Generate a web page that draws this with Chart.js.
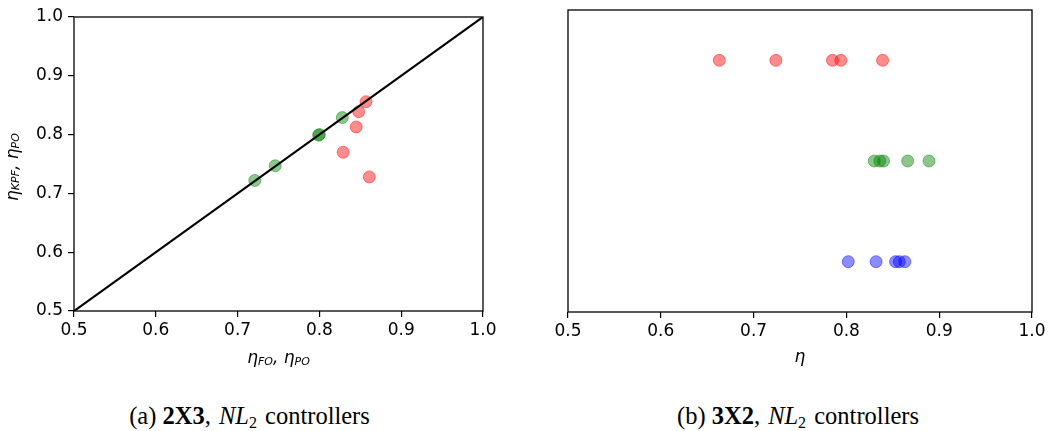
<!DOCTYPE html>
<html>
<head>
<meta charset="utf-8">
<script src="https://cdn.jsdelivr.net/npm/chart.js@4"></script>
<style>
  body { margin: 0; background: #fff; width: 1052px; height: 431px; position: relative; overflow: hidden; }
  canvas { position: absolute; top: 0; }
  #c1 { left: 0; }
  #c2 { left: 520px; }
  .caption { position: absolute; top: 402px; font-family: "Liberation Serif", serif; font-size: 24.5px; line-height: 28px; text-align: center; color: #000; white-space: nowrap; }
  .caption i { margin-left: 2px; }
  .caption sub { font-size: 16px; vertical-align: -4px; line-height: 0; margin-right: 2px; }
</style>
</head>
<body>
<canvas id="c1" width="500" height="380"></canvas>
<canvas id="c2" width="532" height="380"></canvas>
<div class="caption" style="left:0;width:499px">(a) <b>2X3</b>, <i>NL</i><sub>2</sub> controllers</div>
<div class="caption" style="left:548px;width:500px">(b) <b>3X2</b>, <i>NL</i><sub>2</sub> controllers</div>
<script>
// valeurs
const axisTicks = [0.5, 0.6, 0.7, 0.8, 0.9, 1.0];

// (a) 2X3
const gaucheRougeX = [0.857, 0.848, 0.845, 0.829, 0.861];
const gaucheRougeY = [0.856, 0.839, 0.813, 0.770, 0.728];
const gaucheVertX = [0.828, 0.799, 0.800, 0.746, 0.721];
const gaucheVertY = [0.829, 0.799, 0.800, 0.747, 0.722];
const diagonale = [0.5, 1.0];

// (b) 3X2 : une rangée par série
const droiteRouge = [0.663, 0.724, 0.785, 0.794, 0.839];
const droiteVert = [0.830, 0.836, 0.840, 0.866, 0.889];
const droiteBleu = [0.802, 0.832, 0.853, 0.857, 0.863];
const rangees = [2, 1, 0];

const ROUGE = 'rgba(255, 0, 0, 0.45)';
const VERT = 'rgba(0, 128, 0, 0.45)';
const BLEU = 'rgba(0, 0, 255, 0.45)';
const TICK_FONT = { family: '"DejaVu Sans"', size: 17 };

function pts(xs, ys) {
    return xs.map((x, i) => ({ x: x, y: Array.isArray(ys) ? ys[i] : ys }));
}

function nuage(data, couleur) {
    return {
        type: 'scatter', data: data, order: 1,
        backgroundColor: couleur, borderColor: couleur, borderWidth: 1,
        pointRadius: 6, pointHoverRadius: 6
    };
}

// cadre noir autour de la zone de tracé + titres d'axes avec indices
function cadre(titres) {
    return {
        id: 'cadre',
        afterDraw(chart) {
            const a = chart.chartArea;
            const ctx = chart.ctx;
            ctx.save();
            ctx.strokeStyle = '#000';
            ctx.lineWidth = 1.3;
            ctx.strokeRect(a.left, a.top, a.right - a.left, a.bottom - a.top);
            titres.forEach(t => {
                ctx.save();
                ctx.translate(t.x(a), t.y(a));
                if (t.rot) ctx.rotate(-Math.PI / 2);
                dessinerTitre(ctx, t.parts);
                ctx.restore();
            });
            ctx.restore();
        }
    };
}

function dessinerTitre(ctx, parts) {
    const gros = 'italic 17px "DejaVu Sans"';
    const petit = 'italic 11px "DejaVu Sans"';
    let total = 0;
    parts.forEach(p => {
        ctx.font = gros; total += ctx.measureText(p.t).width;
        if (p.sub) { ctx.font = petit; total += ctx.measureText(p.sub).width; }
    });
    let x = -total / 2;
    ctx.fillStyle = '#000';
    ctx.textBaseline = 'alphabetic';
    ctx.textAlign = 'left';
    parts.forEach(p => {
        ctx.font = gros; ctx.fillText(p.t, x, 0); x += ctx.measureText(p.t).width;
        if (p.sub) { ctx.font = petit; ctx.fillText(p.sub, x, 1.5); x += ctx.measureText(p.sub).width; }
    });
}

function axeX(hauteur) {
    return {
        type: 'linear', min: 0.5, max: 1.0,
        afterBuildTicks: s => { s.ticks = axisTicks.map(v => ({ value: v })); },
        afterFit: s => { s.height = hauteur; },
        border: { display: false },
        grid: { drawOnChartArea: false, drawTicks: true, tickLength: 6, color: '#000', lineWidth: 1.2 },
        ticks: { font: TICK_FONT, color: '#000', padding: 3, maxRotation: 0, callback: v => v.toFixed(1) }
    };
}

new Chart(document.getElementById('c1'), {
    type: 'scatter',
    data: {
        datasets: [
            {
                type: 'line', data: pts(diagonale, diagonale), order: 0,
                borderColor: '#000', borderWidth: 2.2, pointRadius: 0, fill: false
            },
            nuage(pts(gaucheRougeX, gaucheRougeY), ROUGE),
            nuage(pts(gaucheVertX, gaucheVertY), VERT)
        ]
    },
    options: {
        responsive: false, animation: false,
        layout: { padding: { left: 0, top: 17, right: 17, bottom: 0 } },
        plugins: { legend: { display: false }, tooltip: { enabled: false } },
        scales: {
            x: axeX(69),
            y: {
                type: 'linear', min: 0.5, max: 1.0,
                afterBuildTicks: s => { s.ticks = axisTicks.map(v => ({ value: v })); },
                afterFit: s => { s.width = 74; },
                border: { display: false },
                grid: { drawOnChartArea: false, drawTicks: true, tickLength: 6, color: '#000', lineWidth: 1.2 },
                ticks: { font: TICK_FONT, color: '#000', padding: 5, callback: v => v.toFixed(1) }
            }
        }
    },
    plugins: [cadre([
        { x: a => (a.left + a.right) / 2, y: a => 363, parts: [{ t: 'η', sub: 'FO' }, { t: ', ' }, { t: 'η', sub: 'PO' }] },
        { x: a => 17.5, y: a => 167, rot: true, parts: [{ t: 'η', sub: 'KPF' }, { t: ', ' }, { t: 'η', sub: 'PO' }] }
    ])]
});

new Chart(document.getElementById('c2'), {
    type: 'scatter',
    data: {
        datasets: [
            nuage(pts(droiteRouge, rangees[0]), ROUGE),
            nuage(pts(droiteVert, rangees[1]), VERT),
            nuage(pts(droiteBleu, rangees[2]), BLEU)
        ]
    },
    options: {
        responsive: false, animation: false,
        layout: { padding: { left: 48, top: 10, right: 20, bottom: 0 } },
        plugins: { legend: { display: false }, tooltip: { enabled: false } },
        scales: {
            x: axeX(68),
            y: { type: 'linear', min: -0.5, max: 2.5, display: false }
        }
    },
    plugins: [cadre([
        { x: a => (a.left + a.right) / 2, y: a => 362, parts: [{ t: 'η' }] }
    ])]
});
</script>
</body>
</html>
